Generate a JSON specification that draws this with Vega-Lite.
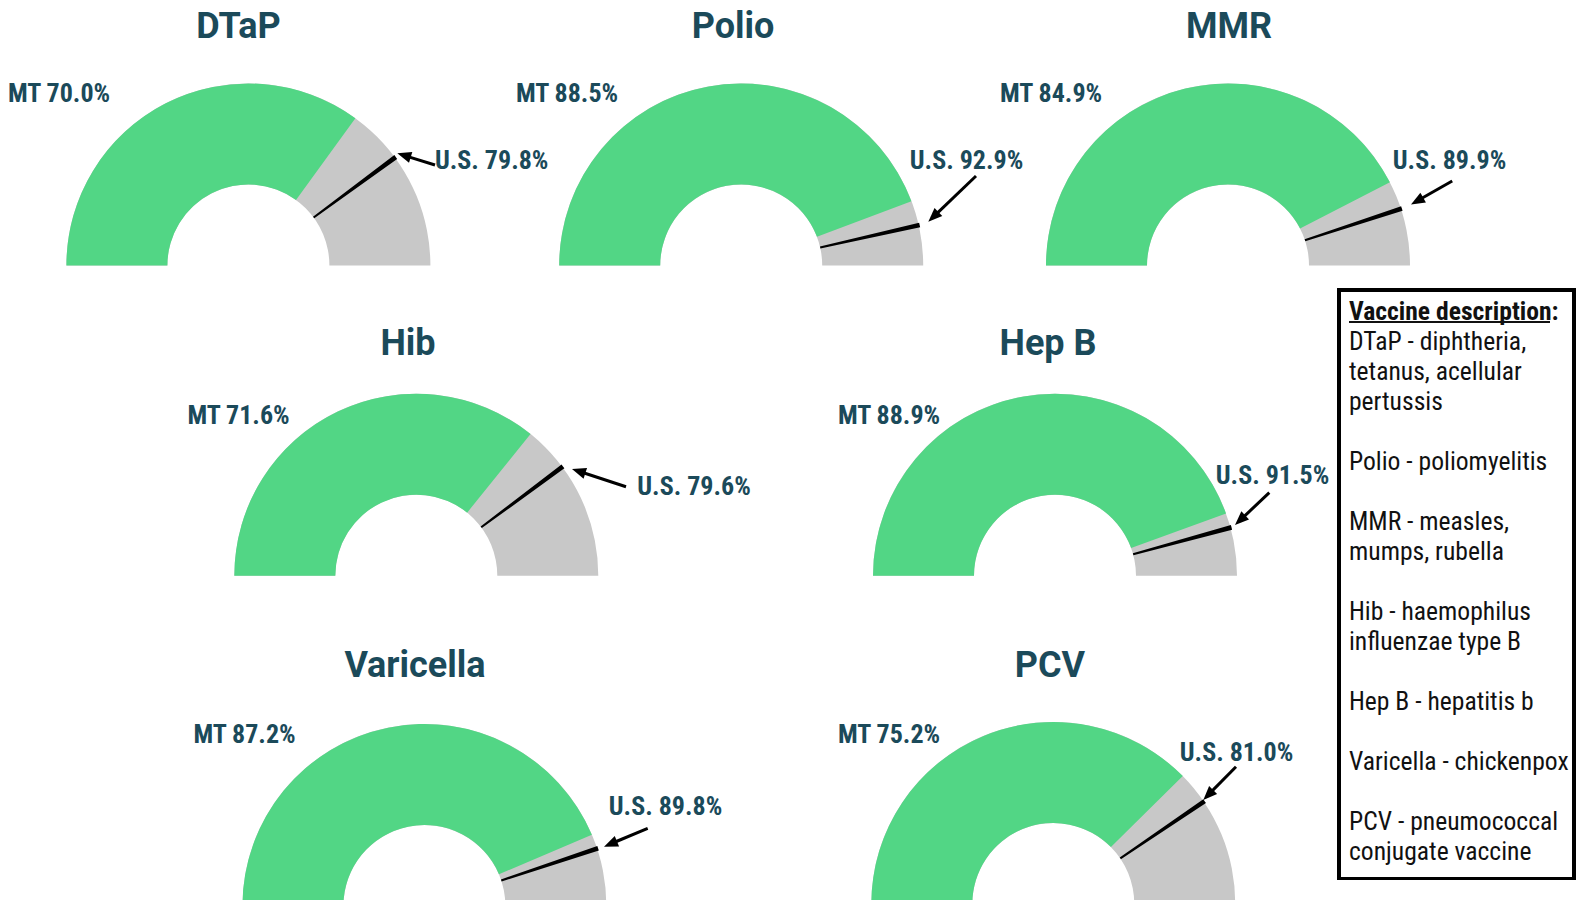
{
"$schema": "https://vega.github.io/schema/vega-lite/v6.json",
"background": "white",
"padding": 0,
"bounds": "flush",
"spacing": 0,
"columns": 3,
"align": "each",
"config": {"view": {"stroke": null}},
"datasets": {
 "vax": [
  {"vaccine": "DTaP", "mt": 70.0, "us": 79.8},
  {"vaccine": "Polio", "mt": 88.5, "us": 92.9},
  {"vaccine": "MMR", "mt": 84.9, "us": 89.9},
  {"vaccine": "Hib", "mt": 71.6, "us": 79.6},
  {"vaccine": "Hep B", "mt": 88.9, "us": 91.5},
  {"vaccine": "Varicella", "mt": 87.2, "us": 89.8},
  {"vaccine": "PCV", "mt": 75.2, "us": 81.0}
 ],
 "desc": [
  {"line": 0, "text": "Vaccine description:", "head": true},
  {"line": 1, "text": "DTaP - diphtheria,", "head": false},
  {"line": 2, "text": "tetanus, acellular", "head": false},
  {"line": 3, "text": "pertussis", "head": false},
  {"line": 5, "text": "Polio - poliomyelitis", "head": false},
  {"line": 7, "text": "MMR - measles,", "head": false},
  {"line": 8, "text": "mumps, rubella", "head": false},
  {"line": 10, "text": "Hib - haemophilus", "head": false},
  {"line": 11, "text": "influenzae type B", "head": false},
  {"line": 13, "text": "Hep B - hepatitis b", "head": false},
  {"line": 15, "text": "Varicella - chickenpox", "head": false},
  {"line": 17, "text": "PCV - pneumococcal", "head": false},
  {"line": 18, "text": "conjugate vaccine", "head": false}
 ]
},
"concat": [
  {"width": 560, "height": 290, "data": {"name": "vax"},
   "transform": [{"filter": "datum.vaccine === 'DTaP'"}, {"calculate": "'MT ' + format(datum.mt, '.1f') + '%'", "as": "mtLabel"}, {"calculate": "'U.S. ' + format(datum.us, '.1f') + '%'", "as": "usLabel"}],
   "layer": [
    {"mark": {"type": "arc", "radius": 182, "radius2": 81, "color": "#c8c8c8"},
     "encoding": {"x": {"datum": 0, "type": "quantitative", "scale": {"domain": [-248.4, 311.6], "nice": false, "zero": false}, "axis": null}, "y": {"datum": 0, "type": "quantitative", "scale": {"domain": [-24.5, 265.5], "nice": false, "zero": false}, "axis": null}, "theta": {"datum": 0, "type": "quantitative", "scale": {"domain": [0, 100], "range": [-1.5707963, 1.5707963]}}, "theta2": {"datum": 100}}},
    {"mark": {"type": "arc", "radius": 182, "radius2": 81, "color": "#52d685"},
     "encoding": {"x": {"datum": 0, "type": "quantitative", "scale": {"domain": [-248.4, 311.6], "nice": false, "zero": false}, "axis": null}, "y": {"datum": 0, "type": "quantitative", "scale": {"domain": [-24.5, 265.5], "nice": false, "zero": false}, "axis": null}, "theta": {"field": "mt", "type": "quantitative", "stack": null, "scale": {"domain": [0, 100], "range": [-1.5707963, 1.5707963]}}, "theta2": {"datum": 0}}},
    {"mark": {"type": "arc", "radius": 183, "radius2": 81, "color": "#000000", "thetaOffset": -0.013, "theta2Offset": 0.013},
     "encoding": {"x": {"datum": 0, "type": "quantitative", "scale": {"domain": [-248.4, 311.6], "nice": false, "zero": false}, "axis": null}, "y": {"datum": 0, "type": "quantitative", "scale": {"domain": [-24.5, 265.5], "nice": false, "zero": false}, "axis": null}, "theta": {"field": "us", "type": "quantitative", "stack": null, "scale": {"domain": [0, 100], "range": [-1.5707963, 1.5707963]}}, "theta2": {"field": "us"}}},
    {"mark": {"type": "rule", "strokeWidth": 3, "color": "#000000"},
     "encoding": {"x": {"datum": 186.6, "type": "quantitative", "scale": {"domain": [-248.4, 311.6], "nice": false, "zero": false}, "axis": null}, "y": {"datum": 100.5, "type": "quantitative", "scale": {"domain": [-24.5, 265.5], "nice": false, "zero": false}, "axis": null}, "x2": {"datum": 160.35}, "y2": {"datum": 108.65}}},
    {"mark": {"type": "point", "shape": "M0,0L-0.8,2L0.8,2Z", "size": 196, "filled": true, "color": "#000000", "opacity": 1, "angle": -72.8},
     "encoding": {"x": {"datum": 148.9, "type": "quantitative", "scale": {"domain": [-248.4, 311.6], "nice": false, "zero": false}, "axis": null}, "y": {"datum": 112.2, "type": "quantitative", "scale": {"domain": [-24.5, 265.5], "nice": false, "zero": false}, "axis": null}}},
    {"mark": {"type": "text", "font": "Roboto", "fontWeight": "bold", "fontSize": 36, "color": "#1b4a5a", "align": "center", "baseline": "middle"},
     "encoding": {"x": {"datum": -9.9, "type": "quantitative", "scale": {"domain": [-248.4, 311.6], "nice": false, "zero": false}, "axis": null}, "y": {"datum": 238.5, "type": "quantitative", "scale": {"domain": [-24.5, 265.5], "nice": false, "zero": false}, "axis": null}, "text": {"field": "vaccine"}}},
    {"mark": {"type": "text", "font": "Roboto Condensed, Liberation Sans Narrow, Roboto", "fontWeight": "bold", "fontSize": 26, "color": "#1b4a5a", "align": "center", "baseline": "middle"},
     "encoding": {"x": {"datum": -189.4, "type": "quantitative", "scale": {"domain": [-248.4, 311.6], "nice": false, "zero": false}, "axis": null}, "y": {"datum": 172, "type": "quantitative", "scale": {"domain": [-24.5, 265.5], "nice": false, "zero": false}, "axis": null}, "text": {"field": "mtLabel"}}},
    {"mark": {"type": "text", "font": "Roboto Condensed, Liberation Sans Narrow, Roboto", "fontWeight": "bold", "fontSize": 26, "color": "#1b4a5a", "align": "left", "baseline": "middle"},
     "encoding": {"x": {"datum": 186.5, "type": "quantitative", "scale": {"domain": [-248.4, 311.6], "nice": false, "zero": false}, "axis": null}, "y": {"datum": 104.7, "type": "quantitative", "scale": {"domain": [-24.5, 265.5], "nice": false, "zero": false}, "axis": null}, "text": {"field": "usLabel"}}}
   ]},
  {"width": 779, "height": 290, "data": {"name": "vax"},
   "transform": [{"filter": "datum.vaccine === 'Polio'"}, {"calculate": "'MT ' + format(datum.mt, '.1f') + '%'", "as": "mtLabel"}, {"calculate": "'U.S. ' + format(datum.us, '.1f') + '%'", "as": "usLabel"}],
   "layer": [
    {"mark": {"type": "arc", "radius": 182, "radius2": 81, "color": "#c8c8c8"},
     "encoding": {"x": {"datum": 0, "type": "quantitative", "scale": {"domain": [-181.2, 597.8], "nice": false, "zero": false}, "axis": null}, "y": {"datum": 0, "type": "quantitative", "scale": {"domain": [-24.5, 265.5], "nice": false, "zero": false}, "axis": null}, "theta": {"datum": 0, "type": "quantitative", "scale": {"domain": [0, 100], "range": [-1.5707963, 1.5707963]}}, "theta2": {"datum": 100}}},
    {"mark": {"type": "arc", "radius": 182, "radius2": 81, "color": "#52d685"},
     "encoding": {"x": {"datum": 0, "type": "quantitative", "scale": {"domain": [-181.2, 597.8], "nice": false, "zero": false}, "axis": null}, "y": {"datum": 0, "type": "quantitative", "scale": {"domain": [-24.5, 265.5], "nice": false, "zero": false}, "axis": null}, "theta": {"field": "mt", "type": "quantitative", "stack": null, "scale": {"domain": [0, 100], "range": [-1.5707963, 1.5707963]}}, "theta2": {"datum": 0}}},
    {"mark": {"type": "arc", "radius": 183, "radius2": 81, "color": "#000000", "thetaOffset": -0.013, "theta2Offset": 0.013},
     "encoding": {"x": {"datum": 0, "type": "quantitative", "scale": {"domain": [-181.2, 597.8], "nice": false, "zero": false}, "axis": null}, "y": {"datum": 0, "type": "quantitative", "scale": {"domain": [-24.5, 265.5], "nice": false, "zero": false}, "axis": null}, "theta": {"field": "us", "type": "quantitative", "stack": null, "scale": {"domain": [0, 100], "range": [-1.5707963, 1.5707963]}}, "theta2": {"field": "us"}}},
    {"mark": {"type": "rule", "strokeWidth": 3, "color": "#000000"},
     "encoding": {"x": {"datum": 234.8, "type": "quantitative", "scale": {"domain": [-181.2, 597.8], "nice": false, "zero": false}, "axis": null}, "y": {"datum": 89.5, "type": "quantitative", "scale": {"domain": [-24.5, 265.5], "nice": false, "zero": false}, "axis": null}, "x2": {"datum": 195.8}, "y2": {"datum": 52.1}}},
    {"mark": {"type": "point", "shape": "M0,0L-0.8,2L0.8,2Z", "size": 196, "filled": true, "color": "#000000", "opacity": 1, "angle": -133.8},
     "encoding": {"x": {"datum": 187.1, "type": "quantitative", "scale": {"domain": [-181.2, 597.8], "nice": false, "zero": false}, "axis": null}, "y": {"datum": 43.8, "type": "quantitative", "scale": {"domain": [-24.5, 265.5], "nice": false, "zero": false}, "axis": null}}},
    {"mark": {"type": "text", "font": "Roboto", "fontWeight": "bold", "fontSize": 36, "color": "#1b4a5a", "align": "center", "baseline": "middle"},
     "encoding": {"x": {"datum": -8.2, "type": "quantitative", "scale": {"domain": [-181.2, 597.8], "nice": false, "zero": false}, "axis": null}, "y": {"datum": 238.5, "type": "quantitative", "scale": {"domain": [-24.5, 265.5], "nice": false, "zero": false}, "axis": null}, "text": {"field": "vaccine"}}},
    {"mark": {"type": "text", "font": "Roboto Condensed, Liberation Sans Narrow, Roboto", "fontWeight": "bold", "fontSize": 26, "color": "#1b4a5a", "align": "center", "baseline": "middle"},
     "encoding": {"x": {"datum": -174.2, "type": "quantitative", "scale": {"domain": [-181.2, 597.8], "nice": false, "zero": false}, "axis": null}, "y": {"datum": 172, "type": "quantitative", "scale": {"domain": [-24.5, 265.5], "nice": false, "zero": false}, "axis": null}, "text": {"field": "mtLabel"}}},
    {"mark": {"type": "text", "font": "Roboto Condensed, Liberation Sans Narrow, Roboto", "fontWeight": "bold", "fontSize": 26, "color": "#1b4a5a", "align": "center", "baseline": "middle"},
     "encoding": {"x": {"datum": 225.3, "type": "quantitative", "scale": {"domain": [-181.2, 597.8], "nice": false, "zero": false}, "axis": null}, "y": {"datum": 104.7, "type": "quantitative", "scale": {"domain": [-24.5, 265.5], "nice": false, "zero": false}, "axis": null}, "text": {"field": "usLabel"}}}
   ]},
  {"width": 238, "height": 290, "data": {"name": "vax"},
   "transform": [{"filter": "datum.vaccine === 'MMR'"}, {"calculate": "'MT ' + format(datum.mt, '.1f') + '%'", "as": "mtLabel"}, {"calculate": "'U.S. ' + format(datum.us, '.1f') + '%'", "as": "usLabel"}],
   "layer": [
    {"mark": {"type": "arc", "radius": 182, "radius2": 81, "color": "#c8c8c8"},
     "encoding": {"x": {"datum": 0, "type": "quantitative", "scale": {"domain": [111, 349], "nice": false, "zero": false}, "axis": null}, "y": {"datum": 0, "type": "quantitative", "scale": {"domain": [-24.5, 265.5], "nice": false, "zero": false}, "axis": null}, "theta": {"datum": 0, "type": "quantitative", "scale": {"domain": [0, 100], "range": [-1.5707963, 1.5707963]}}, "theta2": {"datum": 100}}},
    {"mark": {"type": "arc", "radius": 182, "radius2": 81, "color": "#52d685"},
     "encoding": {"x": {"datum": 0, "type": "quantitative", "scale": {"domain": [111, 349], "nice": false, "zero": false}, "axis": null}, "y": {"datum": 0, "type": "quantitative", "scale": {"domain": [-24.5, 265.5], "nice": false, "zero": false}, "axis": null}, "theta": {"field": "mt", "type": "quantitative", "stack": null, "scale": {"domain": [0, 100], "range": [-1.5707963, 1.5707963]}}, "theta2": {"datum": 0}}},
    {"mark": {"type": "arc", "radius": 183, "radius2": 81, "color": "#000000", "thetaOffset": -0.013, "theta2Offset": 0.013},
     "encoding": {"x": {"datum": 0, "type": "quantitative", "scale": {"domain": [111, 349], "nice": false, "zero": false}, "axis": null}, "y": {"datum": 0, "type": "quantitative", "scale": {"domain": [-24.5, 265.5], "nice": false, "zero": false}, "axis": null}, "theta": {"field": "us", "type": "quantitative", "stack": null, "scale": {"domain": [0, 100], "range": [-1.5707963, 1.5707963]}}, "theta2": {"field": "us"}}},
    {"mark": {"type": "rule", "strokeWidth": 3, "color": "#000000"},
     "encoding": {"x": {"datum": 224.2, "type": "quantitative", "scale": {"domain": [111, 349], "nice": false, "zero": false}, "axis": null}, "y": {"datum": 84.5, "type": "quantitative", "scale": {"domain": [-24.5, 265.5], "nice": false, "zero": false}, "axis": null}, "x2": {"datum": 193.4}, "y2": {"datum": 66.95}}},
    {"mark": {"type": "point", "shape": "M0,0L-0.8,2L0.8,2Z", "size": 196, "filled": true, "color": "#000000", "opacity": 1, "angle": -119.7},
     "encoding": {"x": {"datum": 183, "type": "quantitative", "scale": {"domain": [111, 349], "nice": false, "zero": false}, "axis": null}, "y": {"datum": 61, "type": "quantitative", "scale": {"domain": [-24.5, 265.5], "nice": false, "zero": false}, "axis": null}}},
    {"mark": {"type": "text", "font": "Roboto", "fontWeight": "bold", "fontSize": 36, "color": "#1b4a5a", "align": "center", "baseline": "middle"},
     "encoding": {"x": {"datum": 1, "type": "quantitative", "scale": {"domain": [111, 349], "nice": false, "zero": false}, "axis": null}, "y": {"datum": 238.5, "type": "quantitative", "scale": {"domain": [-24.5, 265.5], "nice": false, "zero": false}, "axis": null}, "text": {"field": "vaccine"}}},
    {"mark": {"type": "text", "font": "Roboto Condensed, Liberation Sans Narrow, Roboto", "fontWeight": "bold", "fontSize": 26, "color": "#1b4a5a", "align": "center", "baseline": "middle"},
     "encoding": {"x": {"datum": -177, "type": "quantitative", "scale": {"domain": [111, 349], "nice": false, "zero": false}, "axis": null}, "y": {"datum": 172, "type": "quantitative", "scale": {"domain": [-24.5, 265.5], "nice": false, "zero": false}, "axis": null}, "text": {"field": "mtLabel"}}},
    {"mark": {"type": "text", "font": "Roboto Condensed, Liberation Sans Narrow, Roboto", "fontWeight": "bold", "fontSize": 26, "color": "#1b4a5a", "align": "center", "baseline": "middle"},
     "encoding": {"x": {"datum": 221.5, "type": "quantitative", "scale": {"domain": [111, 349], "nice": false, "zero": false}, "axis": null}, "y": {"datum": 104.5, "type": "quantitative", "scale": {"domain": [-24.5, 265.5], "nice": false, "zero": false}, "axis": null}, "text": {"field": "usLabel"}}}
   ]},
  {"width": 560, "height": 310, "data": {"name": "vax"},
   "transform": [{"filter": "datum.vaccine === 'Hib'"}, {"calculate": "'MT ' + format(datum.mt, '.1f') + '%'", "as": "mtLabel"}, {"calculate": "'U.S. ' + format(datum.us, '.1f') + '%'", "as": "usLabel"}],
   "layer": [
    {"mark": {"type": "arc", "radius": 182, "radius2": 81, "color": "#c8c8c8"},
     "encoding": {"x": {"datum": 0, "type": "quantitative", "scale": {"domain": [-416.3, 143.7], "nice": false, "zero": false}, "axis": null}, "y": {"datum": 0, "type": "quantitative", "scale": {"domain": [-24.3, 285.7], "nice": false, "zero": false}, "axis": null}, "theta": {"datum": 0, "type": "quantitative", "scale": {"domain": [0, 100], "range": [-1.5707963, 1.5707963]}}, "theta2": {"datum": 100}}},
    {"mark": {"type": "arc", "radius": 182, "radius2": 81, "color": "#52d685"},
     "encoding": {"x": {"datum": 0, "type": "quantitative", "scale": {"domain": [-416.3, 143.7], "nice": false, "zero": false}, "axis": null}, "y": {"datum": 0, "type": "quantitative", "scale": {"domain": [-24.3, 285.7], "nice": false, "zero": false}, "axis": null}, "theta": {"field": "mt", "type": "quantitative", "stack": null, "scale": {"domain": [0, 100], "range": [-1.5707963, 1.5707963]}}, "theta2": {"datum": 0}}},
    {"mark": {"type": "arc", "radius": 183, "radius2": 81, "color": "#000000", "thetaOffset": -0.013, "theta2Offset": 0.013},
     "encoding": {"x": {"datum": 0, "type": "quantitative", "scale": {"domain": [-416.3, 143.7], "nice": false, "zero": false}, "axis": null}, "y": {"datum": 0, "type": "quantitative", "scale": {"domain": [-24.3, 285.7], "nice": false, "zero": false}, "axis": null}, "theta": {"field": "us", "type": "quantitative", "stack": null, "scale": {"domain": [0, 100], "range": [-1.5707963, 1.5707963]}}, "theta2": {"field": "us"}}},
    {"mark": {"type": "rule", "strokeWidth": 3, "color": "#000000"},
     "encoding": {"x": {"datum": 209.7, "type": "quantitative", "scale": {"domain": [-416.3, 143.7], "nice": false, "zero": false}, "axis": null}, "y": {"datum": 89, "type": "quantitative", "scale": {"domain": [-24.3, 285.7], "nice": false, "zero": false}, "axis": null}, "x2": {"datum": 167.1}, "y2": {"datum": 103}}},
    {"mark": {"type": "point", "shape": "M0,0L-0.8,2L0.8,2Z", "size": 196, "filled": true, "color": "#000000", "opacity": 1, "angle": -71.8},
     "encoding": {"x": {"datum": 155.7, "type": "quantitative", "scale": {"domain": [-416.3, 143.7], "nice": false, "zero": false}, "axis": null}, "y": {"datum": 106.7, "type": "quantitative", "scale": {"domain": [-24.3, 285.7], "nice": false, "zero": false}, "axis": null}}},
    {"mark": {"type": "text", "font": "Roboto", "fontWeight": "bold", "fontSize": 36, "color": "#1b4a5a", "align": "center", "baseline": "middle"},
     "encoding": {"x": {"datum": -8.3, "type": "quantitative", "scale": {"domain": [-416.3, 143.7], "nice": false, "zero": false}, "axis": null}, "y": {"datum": 231.7, "type": "quantitative", "scale": {"domain": [-24.3, 285.7], "nice": false, "zero": false}, "axis": null}, "text": {"field": "vaccine"}}},
    {"mark": {"type": "text", "font": "Roboto Condensed, Liberation Sans Narrow, Roboto", "fontWeight": "bold", "fontSize": 26, "color": "#1b4a5a", "align": "center", "baseline": "middle"},
     "encoding": {"x": {"datum": -177.8, "type": "quantitative", "scale": {"domain": [-416.3, 143.7], "nice": false, "zero": false}, "axis": null}, "y": {"datum": 159.3, "type": "quantitative", "scale": {"domain": [-24.3, 285.7], "nice": false, "zero": false}, "axis": null}, "text": {"field": "mtLabel"}}},
    {"mark": {"type": "text", "font": "Roboto Condensed, Liberation Sans Narrow, Roboto", "fontWeight": "bold", "fontSize": 26, "color": "#1b4a5a", "align": "center", "baseline": "middle"},
     "encoding": {"x": {"datum": 277.7, "type": "quantitative", "scale": {"domain": [-416.3, 143.7], "nice": false, "zero": false}, "axis": null}, "y": {"datum": 89, "type": "quantitative", "scale": {"domain": [-24.3, 285.7], "nice": false, "zero": false}, "axis": null}, "text": {"field": "usLabel"}}}
   ]},
  {"width": 779, "height": 310, "data": {"name": "vax"},
   "transform": [{"filter": "datum.vaccine === 'Hep B'"}, {"calculate": "'MT ' + format(datum.mt, '.1f') + '%'", "as": "mtLabel"}, {"calculate": "'U.S. ' + format(datum.us, '.1f') + '%'", "as": "usLabel"}],
   "layer": [
    {"mark": {"type": "arc", "radius": 182, "radius2": 81, "color": "#c8c8c8"},
     "encoding": {"x": {"datum": 0, "type": "quantitative", "scale": {"domain": [-495, 284], "nice": false, "zero": false}, "axis": null}, "y": {"datum": 0, "type": "quantitative", "scale": {"domain": [-24.3, 285.7], "nice": false, "zero": false}, "axis": null}, "theta": {"datum": 0, "type": "quantitative", "scale": {"domain": [0, 100], "range": [-1.5707963, 1.5707963]}}, "theta2": {"datum": 100}}},
    {"mark": {"type": "arc", "radius": 182, "radius2": 81, "color": "#52d685"},
     "encoding": {"x": {"datum": 0, "type": "quantitative", "scale": {"domain": [-495, 284], "nice": false, "zero": false}, "axis": null}, "y": {"datum": 0, "type": "quantitative", "scale": {"domain": [-24.3, 285.7], "nice": false, "zero": false}, "axis": null}, "theta": {"field": "mt", "type": "quantitative", "stack": null, "scale": {"domain": [0, 100], "range": [-1.5707963, 1.5707963]}}, "theta2": {"datum": 0}}},
    {"mark": {"type": "arc", "radius": 183, "radius2": 81, "color": "#000000", "thetaOffset": -0.013, "theta2Offset": 0.013},
     "encoding": {"x": {"datum": 0, "type": "quantitative", "scale": {"domain": [-495, 284], "nice": false, "zero": false}, "axis": null}, "y": {"datum": 0, "type": "quantitative", "scale": {"domain": [-24.3, 285.7], "nice": false, "zero": false}, "axis": null}, "theta": {"field": "us", "type": "quantitative", "stack": null, "scale": {"domain": [0, 100], "range": [-1.5707963, 1.5707963]}}, "theta2": {"field": "us"}}},
    {"mark": {"type": "rule", "strokeWidth": 3, "color": "#000000"},
     "encoding": {"x": {"datum": 214.3, "type": "quantitative", "scale": {"domain": [-495, 284], "nice": false, "zero": false}, "axis": null}, "y": {"datum": 83, "type": "quantitative", "scale": {"domain": [-24.3, 285.7], "nice": false, "zero": false}, "axis": null}, "x2": {"datum": 188.7}, "y2": {"datum": 58.9}}},
    {"mark": {"type": "point", "shape": "M0,0L-0.8,2L0.8,2Z", "size": 196, "filled": true, "color": "#000000", "opacity": 1, "angle": -133.3},
     "encoding": {"x": {"datum": 180, "type": "quantitative", "scale": {"domain": [-495, 284], "nice": false, "zero": false}, "axis": null}, "y": {"datum": 50.7, "type": "quantitative", "scale": {"domain": [-24.3, 285.7], "nice": false, "zero": false}, "axis": null}}},
    {"mark": {"type": "text", "font": "Roboto", "fontWeight": "bold", "fontSize": 36, "color": "#1b4a5a", "align": "center", "baseline": "middle"},
     "encoding": {"x": {"datum": -7, "type": "quantitative", "scale": {"domain": [-495, 284], "nice": false, "zero": false}, "axis": null}, "y": {"datum": 231.7, "type": "quantitative", "scale": {"domain": [-24.3, 285.7], "nice": false, "zero": false}, "axis": null}, "text": {"field": "vaccine"}}},
    {"mark": {"type": "text", "font": "Roboto Condensed, Liberation Sans Narrow, Roboto", "fontWeight": "bold", "fontSize": 26, "color": "#1b4a5a", "align": "center", "baseline": "middle"},
     "encoding": {"x": {"datum": -166, "type": "quantitative", "scale": {"domain": [-495, 284], "nice": false, "zero": false}, "axis": null}, "y": {"datum": 159.3, "type": "quantitative", "scale": {"domain": [-24.3, 285.7], "nice": false, "zero": false}, "axis": null}, "text": {"field": "mtLabel"}}},
    {"mark": {"type": "text", "font": "Roboto Condensed, Liberation Sans Narrow, Roboto", "fontWeight": "bold", "fontSize": 26, "color": "#1b4a5a", "align": "center", "baseline": "middle"},
     "encoding": {"x": {"datum": 217.5, "type": "quantitative", "scale": {"domain": [-495, 284], "nice": false, "zero": false}, "axis": null}, "y": {"datum": 99.9, "type": "quantitative", "scale": {"domain": [-24.3, 285.7], "nice": false, "zero": false}, "axis": null}, "text": {"field": "usLabel"}}}
   ]},
  {"width": 238, "height": 310, "data": {"name": "desc"},
   "layer": [
    {"mark": {"type": "rect", "filled": false, "stroke": "#000000", "strokeWidth": 3},
     "encoding": {"x": {"datum": 0, "type": "quantitative", "scale": {"domain": [0, 238], "nice": false, "zero": false}, "axis": null}, "x2": {"datum": 235}, "y": {"datum": -0.7267, "type": "quantitative", "scale": {"domain": [-0.7267, 9.6067], "reverse": true, "nice": false, "zero": false}, "axis": null}, "y2": {"datum": 18.89}}},
    {"transform": [{"filter": "!datum.head"}],
     "mark": {"type": "text", "font": "Roboto Condensed, Liberation Sans Narrow, Roboto", "fontSize": 25.6, "color": "#111111", "align": "left", "baseline": "middle"},
     "encoding": {"x": {"datum": 10, "type": "quantitative", "scale": {"domain": [0, 238], "nice": false, "zero": false}, "axis": null}, "y": {"field": "line", "type": "quantitative", "scale": {"domain": [-0.7267, 9.6067], "reverse": true, "nice": false, "zero": false}, "axis": null}, "text": {"field": "text"}}},
    {"transform": [{"filter": "datum.head"}],
     "mark": {"type": "text", "font": "Roboto Condensed, Liberation Sans Narrow, Roboto", "fontSize": 25.6, "fontWeight": "bold", "color": "#111111", "align": "left", "baseline": "middle"},
     "encoding": {"x": {"datum": 10, "type": "quantitative", "scale": {"domain": [0, 238], "nice": false, "zero": false}, "axis": null}, "y": {"field": "line", "type": "quantitative", "scale": {"domain": [-0.7267, 9.6067], "reverse": true, "nice": false, "zero": false}, "axis": null}, "text": {"field": "text"}}},
    {"mark": {"type": "rule", "strokeWidth": 2, "color": "#111111"},
     "encoding": {"x": {"datum": 10, "type": "quantitative", "scale": {"domain": [0, 238], "nice": false, "zero": false}, "axis": null}, "x2": {"datum": 211}, "y": {"datum": 0.34, "type": "quantitative", "scale": {"domain": [-0.7267, 9.6067], "reverse": true, "nice": false, "zero": false}, "axis": null}}}
   ]},
  {"width": 560, "height": 300, "data": {"name": "vax"},
   "transform": [{"filter": "datum.vaccine === 'Varicella'"}, {"calculate": "'MT ' + format(datum.mt, '.1f') + '%'", "as": "mtLabel"}, {"calculate": "'U.S. ' + format(datum.us, '.1f') + '%'", "as": "usLabel"}],
   "layer": [
    {"mark": {"type": "arc", "radius": 182, "radius2": 81, "color": "#c8c8c8"},
     "encoding": {"x": {"datum": 0, "type": "quantitative", "scale": {"domain": [-424.4, 135.6], "nice": false, "zero": false}, "axis": null}, "y": {"datum": 0, "type": "quantitative", "scale": {"domain": [6, 306], "nice": false, "zero": false}, "axis": null}, "theta": {"datum": 0, "type": "quantitative", "scale": {"domain": [0, 100], "range": [-1.5707963, 1.5707963]}}, "theta2": {"datum": 100}}},
    {"mark": {"type": "arc", "radius": 182, "radius2": 81, "color": "#52d685"},
     "encoding": {"x": {"datum": 0, "type": "quantitative", "scale": {"domain": [-424.4, 135.6], "nice": false, "zero": false}, "axis": null}, "y": {"datum": 0, "type": "quantitative", "scale": {"domain": [6, 306], "nice": false, "zero": false}, "axis": null}, "theta": {"field": "mt", "type": "quantitative", "stack": null, "scale": {"domain": [0, 100], "range": [-1.5707963, 1.5707963]}}, "theta2": {"datum": 0}}},
    {"mark": {"type": "arc", "radius": 183, "radius2": 81, "color": "#000000", "thetaOffset": -0.013, "theta2Offset": 0.013},
     "encoding": {"x": {"datum": 0, "type": "quantitative", "scale": {"domain": [-424.4, 135.6], "nice": false, "zero": false}, "axis": null}, "y": {"datum": 0, "type": "quantitative", "scale": {"domain": [6, 306], "nice": false, "zero": false}, "axis": null}, "theta": {"field": "us", "type": "quantitative", "stack": null, "scale": {"domain": [0, 100], "range": [-1.5707963, 1.5707963]}}, "theta2": {"field": "us"}}},
    {"mark": {"type": "rule", "strokeWidth": 3, "color": "#000000"},
     "encoding": {"x": {"datum": 223.3, "type": "quantitative", "scale": {"domain": [-424.4, 135.6], "nice": false, "zero": false}, "axis": null}, "y": {"datum": 77.7, "type": "quantitative", "scale": {"domain": [6, 306], "nice": false, "zero": false}, "axis": null}, "x2": {"datum": 190.7}, "y2": {"datum": 64}}},
    {"mark": {"type": "point", "shape": "M0,0L-0.8,2L0.8,2Z", "size": 196, "filled": true, "color": "#000000", "opacity": 1, "angle": -112.8},
     "encoding": {"x": {"datum": 179.6, "type": "quantitative", "scale": {"domain": [-424.4, 135.6], "nice": false, "zero": false}, "axis": null}, "y": {"datum": 59.3, "type": "quantitative", "scale": {"domain": [6, 306], "nice": false, "zero": false}, "axis": null}}},
    {"mark": {"type": "text", "font": "Roboto", "fontWeight": "bold", "fontSize": 36, "color": "#1b4a5a", "align": "center", "baseline": "middle"},
     "encoding": {"x": {"datum": -9.4, "type": "quantitative", "scale": {"domain": [-424.4, 135.6], "nice": false, "zero": false}, "axis": null}, "y": {"datum": 240, "type": "quantitative", "scale": {"domain": [6, 306], "nice": false, "zero": false}, "axis": null}, "text": {"field": "vaccine"}}},
    {"mark": {"type": "text", "font": "Roboto Condensed, Liberation Sans Narrow, Roboto", "fontWeight": "bold", "fontSize": 26, "color": "#1b4a5a", "align": "center", "baseline": "middle"},
     "encoding": {"x": {"datum": -179.9, "type": "quantitative", "scale": {"domain": [-424.4, 135.6], "nice": false, "zero": false}, "axis": null}, "y": {"datum": 171, "type": "quantitative", "scale": {"domain": [6, 306], "nice": false, "zero": false}, "axis": null}, "text": {"field": "mtLabel"}}},
    {"mark": {"type": "text", "font": "Roboto Condensed, Liberation Sans Narrow, Roboto", "fontWeight": "bold", "fontSize": 26, "color": "#1b4a5a", "align": "center", "baseline": "middle"},
     "encoding": {"x": {"datum": 241.1, "type": "quantitative", "scale": {"domain": [-424.4, 135.6], "nice": false, "zero": false}, "axis": null}, "y": {"datum": 98.8, "type": "quantitative", "scale": {"domain": [6, 306], "nice": false, "zero": false}, "axis": null}, "text": {"field": "usLabel"}}}
   ]},
  {"width": 779, "height": 300, "data": {"name": "vax"},
   "transform": [{"filter": "datum.vaccine === 'PCV'"}, {"calculate": "'MT ' + format(datum.mt, '.1f') + '%'", "as": "mtLabel"}, {"calculate": "'U.S. ' + format(datum.us, '.1f') + '%'", "as": "usLabel"}],
   "layer": [
    {"mark": {"type": "arc", "radius": 182, "radius2": 81, "color": "#c8c8c8"},
     "encoding": {"x": {"datum": 0, "type": "quantitative", "scale": {"domain": [-493.3, 285.7], "nice": false, "zero": false}, "axis": null}, "y": {"datum": 0, "type": "quantitative", "scale": {"domain": [4, 304], "nice": false, "zero": false}, "axis": null}, "theta": {"datum": 0, "type": "quantitative", "scale": {"domain": [0, 100], "range": [-1.5707963, 1.5707963]}}, "theta2": {"datum": 100}}},
    {"mark": {"type": "arc", "radius": 182, "radius2": 81, "color": "#52d685"},
     "encoding": {"x": {"datum": 0, "type": "quantitative", "scale": {"domain": [-493.3, 285.7], "nice": false, "zero": false}, "axis": null}, "y": {"datum": 0, "type": "quantitative", "scale": {"domain": [4, 304], "nice": false, "zero": false}, "axis": null}, "theta": {"field": "mt", "type": "quantitative", "stack": null, "scale": {"domain": [0, 100], "range": [-1.5707963, 1.5707963]}}, "theta2": {"datum": 0}}},
    {"mark": {"type": "arc", "radius": 183, "radius2": 81, "color": "#000000", "thetaOffset": -0.013, "theta2Offset": 0.013},
     "encoding": {"x": {"datum": 0, "type": "quantitative", "scale": {"domain": [-493.3, 285.7], "nice": false, "zero": false}, "axis": null}, "y": {"datum": 0, "type": "quantitative", "scale": {"domain": [4, 304], "nice": false, "zero": false}, "axis": null}, "theta": {"field": "us", "type": "quantitative", "stack": null, "scale": {"domain": [0, 100], "range": [-1.5707963, 1.5707963]}}, "theta2": {"field": "us"}}},
    {"mark": {"type": "rule", "strokeWidth": 3, "color": "#000000"},
     "encoding": {"x": {"datum": 182.7, "type": "quantitative", "scale": {"domain": [-493.3, 285.7], "nice": false, "zero": false}, "axis": null}, "y": {"datum": 137.3, "type": "quantitative", "scale": {"domain": [4, 304], "nice": false, "zero": false}, "axis": null}, "x2": {"datum": 158.4}, "y2": {"datum": 112.6}}},
    {"mark": {"type": "point", "shape": "M0,0L-0.8,2L0.8,2Z", "size": 196, "filled": true, "color": "#000000", "opacity": 1, "angle": -135.5},
     "encoding": {"x": {"datum": 150, "type": "quantitative", "scale": {"domain": [-493.3, 285.7], "nice": false, "zero": false}, "axis": null}, "y": {"datum": 104, "type": "quantitative", "scale": {"domain": [4, 304], "nice": false, "zero": false}, "axis": null}}},
    {"mark": {"type": "text", "font": "Roboto", "fontWeight": "bold", "fontSize": 36, "color": "#1b4a5a", "align": "center", "baseline": "middle"},
     "encoding": {"x": {"datum": -3.3, "type": "quantitative", "scale": {"domain": [-493.3, 285.7], "nice": false, "zero": false}, "axis": null}, "y": {"datum": 238, "type": "quantitative", "scale": {"domain": [4, 304], "nice": false, "zero": false}, "axis": null}, "text": {"field": "vaccine"}}},
    {"mark": {"type": "text", "font": "Roboto Condensed, Liberation Sans Narrow, Roboto", "fontWeight": "bold", "fontSize": 26, "color": "#1b4a5a", "align": "center", "baseline": "middle"},
     "encoding": {"x": {"datum": -164.3, "type": "quantitative", "scale": {"domain": [-493.3, 285.7], "nice": false, "zero": false}, "axis": null}, "y": {"datum": 169, "type": "quantitative", "scale": {"domain": [4, 304], "nice": false, "zero": false}, "axis": null}, "text": {"field": "mtLabel"}}},
    {"mark": {"type": "text", "font": "Roboto Condensed, Liberation Sans Narrow, Roboto", "fontWeight": "bold", "fontSize": 26, "color": "#1b4a5a", "align": "center", "baseline": "middle"},
     "encoding": {"x": {"datum": 183.2, "type": "quantitative", "scale": {"domain": [-493.3, 285.7], "nice": false, "zero": false}, "axis": null}, "y": {"datum": 151.5, "type": "quantitative", "scale": {"domain": [4, 304], "nice": false, "zero": false}, "axis": null}, "text": {"field": "usLabel"}}}
   ]}
]
}
